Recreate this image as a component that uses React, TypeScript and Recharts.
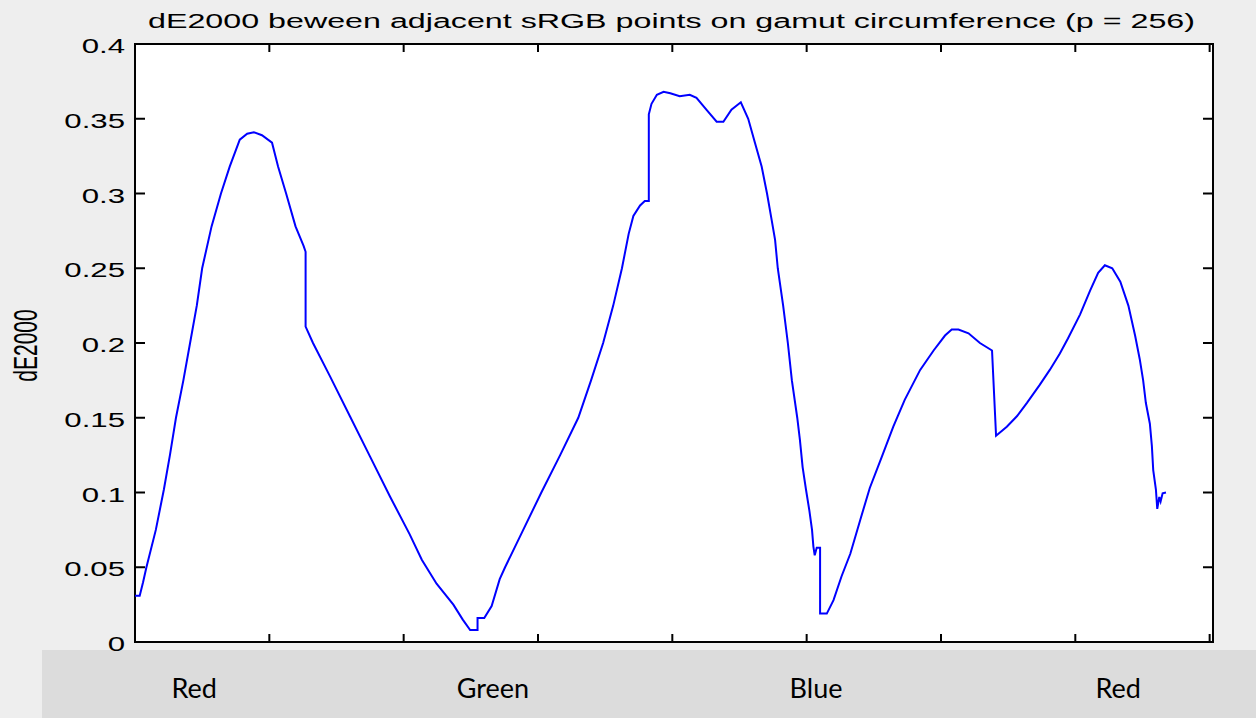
import { Line, LineChart, XAxis, YAxis } from 'recharts';

// position along the sRGB gamut circumference (6 edges x 256 steps)
const steps = [
  0, 7, 12, 17, 31, 43, 52, 61, 72, 82, 92, 100, 114, 128, 141, 156, 167, 177, 189, 204,
  213, 225, 239, 251, 254, 254, 265, 290, 320, 350, 380, 409, 427, 449, 474, 488, 499, 510,
  510, 520, 531, 543, 551, 578, 605, 633, 660, 679, 697, 712, 725, 735, 742, 752, 759, 765,
  765, 769, 777, 787, 797, 811, 826, 836, 851, 866, 876, 888, 902, 913, 923, 933, 941, 948,
  953, 957, 965, 972, 978, 986, 990, 994, 999, 1004, 1008, 1010, 1012, 1015, 1020, 1020,
  1030, 1040, 1052, 1065, 1080, 1094, 1112, 1129, 1146, 1169, 1189, 1206, 1216, 1226, 1241,
  1258, 1276, 1282, 1298, 1313, 1328, 1347, 1362, 1377, 1389, 1407, 1422, 1434, 1444, 1455,
  1467, 1479, 1489, 1496, 1501, 1505, 1511, 1514, 1516, 1520, 1522, 1525, 1527, 1530, 1535,
];

// dE2000 between neighbouring points
const dE2000 = [
  0.031, 0.031, 0.04, 0.05, 0.075, 0.102, 0.125, 0.15, 0.175, 0.2, 0.225, 0.25, 0.278, 0.3,
  0.318, 0.336, 0.34, 0.341, 0.339, 0.334, 0.318, 0.3, 0.278, 0.265, 0.261, 0.211, 0.2, 0.178,
  0.151, 0.124, 0.097, 0.072, 0.055, 0.039, 0.025, 0.015, 0.008, 0.008, 0.016, 0.016, 0.024,
  0.042, 0.05, 0.075, 0.1, 0.125, 0.15, 0.175, 0.2, 0.225, 0.25, 0.273, 0.285, 0.292, 0.295,
  0.295, 0.353, 0.36, 0.366, 0.368, 0.367, 0.365, 0.366, 0.364, 0.356, 0.348, 0.348, 0.356,
  0.361, 0.35, 0.334, 0.318, 0.3, 0.282, 0.269, 0.25, 0.225, 0.2, 0.175, 0.15, 0.135, 0.117,
  0.102, 0.088, 0.075, 0.064, 0.058, 0.063, 0.063, 0.019, 0.019, 0.028, 0.044, 0.059, 0.082,
  0.103, 0.124, 0.144, 0.162, 0.182, 0.195, 0.205, 0.209, 0.209, 0.2065, 0.2, 0.195, 0.138,
  0.144, 0.151, 0.16, 0.172, 0.182, 0.193, 0.203, 0.219, 0.235, 0.247, 0.252, 0.25, 0.241,
  0.225, 0.205, 0.189, 0.175, 0.16, 0.146, 0.131, 0.115, 0.102, 0.089, 0.097, 0.094, 0.0995,
  0.1,
];

const yTicks = [0, 0.05, 0.1, 0.15, 0.2, 0.25, 0.3, 0.35, 0.4];
const xTicks = [0, 200, 400, 600, 800, 1000, 1200, 1400, 1600];
const hueLabels = ['Red', 'Green', 'Blue', 'Red'];
const hueTicks = [88, 533, 1014, 1464];

const data = steps.map((s, k) => ({ s, dE: dE2000[k] }));

const W = 1256;
const H = 718;
const PLOT_LEFT = 135;
const PLOT_TOP = 44;
const PLOT_W = 1078;
const PLOT_H = 598;
const BAND_H = 75;

const X_DOMAIN: [number, number] = [0, 1605];
const Y_DOMAIN: [number, number] = [0, 0.4];
const AXIS_FONT = '"Liberation Sans", Arial, Helvetica, sans-serif';
const STRETCH = 1.56;
const TICK_LEN_X = 8;
const TICK_LEN_Y = 10;
const TICK_W = 2;
const LABEL_GAP = 10;

// y labels plus inward tick marks on both the left and right edges of the box
const LeftTick = ({ x, y, payload }: any) => {
  const edge = x + LABEL_GAP;
  return (
    <g>
      <line x1={edge} x2={edge + TICK_LEN_Y} y1={y} y2={y} stroke='#000' strokeWidth={TICK_W} />
      <line
        x1={edge + PLOT_W - TICK_LEN_Y}
        x2={edge + PLOT_W}
        y1={y}
        y2={y}
        stroke='#000'
        strokeWidth={TICK_W}
      />
      <text
        transform={`translate(${x},${y + 9}) scale(${STRETCH},1)`}
        textAnchor='end'
        fontSize={20}
        fontFamily={AXIS_FONT}
        fill='#000'
      >
        {String(payload.value)}
      </text>
    </g>
  );
};

// inward tick marks on the bottom and top edges of the box
const BottomTick = ({ x, y }: any) => (
  <g>
    <line x1={x} x2={x} y1={y - TICK_LEN_X} y2={y} stroke='#000' strokeWidth={TICK_W} />
    <line x1={x} x2={x} y1={y - PLOT_H} y2={y - PLOT_H + TICK_LEN_X} stroke='#000' strokeWidth={TICK_W} />
  </g>
);

const HueTick = ({ x, y, payload }: any) => (
  <text
    x={x}
    y={y + 55}
    textAnchor='middle'
    fontSize={27}
    fontFamily='Lato, "Open Sans", sans-serif'
    fill='#000'
  >
    {hueLabels[hueTicks.indexOf(payload.value)]}
  </text>
);

export default function App() {
  return (
    <div
      style={{
        position: 'absolute',
        left: 0,
        top: 0,
        width: W,
        height: H,
        background: '#eeeeee',
        overflow: 'hidden',
      }}
    >
      {/* label strip, plot background and box */}
      <div style={{ position: 'absolute', left: 42, top: 650, width: W - 42, height: 68, background: '#dcdcdc' }} />
      <div
        style={{
          position: 'absolute',
          left: PLOT_LEFT - 1,
          top: PLOT_TOP - 1,
          width: PLOT_W + 2,
          height: PLOT_H + 2,
          boxSizing: 'border-box',
          border: '2px solid #000',
          background: '#ffffff',
        }}
      />
      <div style={{ position: 'absolute', left: 0, top: 0 }}>
        <LineChart
          width={W}
          height={H}
          data={data}
          margin={{ top: PLOT_TOP, right: W - PLOT_LEFT - PLOT_W, bottom: 0, left: 0 }}
        >
          <XAxis
            dataKey='s'
            type='number'
            domain={X_DOMAIN}
            ticks={xTicks}
            interval={0}
            allowDataOverflow
            height={H - PLOT_TOP - PLOT_H - BAND_H}
            tickSize={0}
            tickMargin={0}
            tickLine={false}
            axisLine={false}
            tick={<BottomTick />}
          />
          <XAxis
            xAxisId='band'
            dataKey='s'
            type='number'
            domain={X_DOMAIN}
            ticks={hueTicks}
            interval={0}
            allowDataOverflow
            height={BAND_H}
            tickSize={0}
            tickMargin={0}
            axisLine={false}
            tickLine={false}
            tick={<HueTick />}
          />
          <YAxis
            type='number'
            domain={Y_DOMAIN}
            ticks={yTicks}
            interval={0}
            allowDataOverflow
            width={PLOT_LEFT}
            tickSize={0}
            tickMargin={LABEL_GAP}
            tickLine={false}
            axisLine={false}
            tick={<LeftTick />}
          />
          {/* carrier for the label-strip axis, not drawn */}
          <Line
            xAxisId='band'
            dataKey='dE'
            stroke='none'
            dot={false}
            activeDot={false}
            isAnimationActive={false}
          />
          <Line
            type='linear'
            dataKey='dE'
            stroke='#0000ff'
            strokeWidth={2}
            dot={false}
            activeDot={false}
            isAnimationActive={false}
          />
        </LineChart>
      </div>
      <svg width={W} height={H} style={{ position: 'absolute', left: 0, top: 0, pointerEvents: 'none' }}>
        <text
          x={671.5}
          y={27.5}
          textAnchor='middle'
          fontSize={20}
          fontFamily={AXIS_FONT}
          textLength={1047}
          lengthAdjust='spacingAndGlyphs'
          fill='#000'
        >
          dE2000 beween adjacent sRGB points on gamut circumference (p = 256)
        </text>
        <text
          transform={`translate(37,345.5) scale(${STRETCH},1) rotate(-90)`}
          textAnchor='middle'
          fontSize={21}
          fontFamily={AXIS_FONT}
          fill='#000'
        >
          dE2000
        </text>
      </svg>
    </div>
  );
}
